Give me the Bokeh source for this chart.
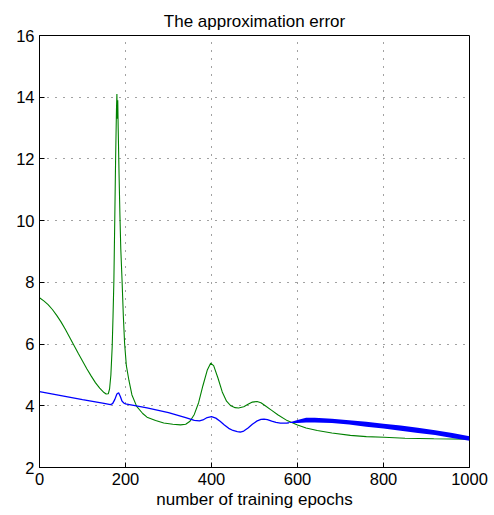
from bokeh.plotting import figure
from bokeh.models import FixedTicker, Range1d
from bokeh.embed import file_html
from bokeh.resources import INLINE

# ---- data ----
green_x = [0, 10, 20, 30, 40, 50, 60, 70, 80, 90, 100, 110, 120, 130, 140, 150, 155, 160,
           163, 166, 169, 171, 173, 175, 177, 179, 180, 181, 182, 183, 185, 187, 189, 192,
           195, 198, 202, 208, 215, 226, 240, 250, 270, 289, 310, 328, 340, 350, 360, 370,
           380, 390, 398, 405, 415, 425, 435, 445, 455, 463, 475, 485, 495, 506, 515, 525,
           540, 555, 576, 600, 620, 646, 680, 723, 760, 801, 850, 917, 1000]
green_y = [7.50, 7.40, 7.28, 7.12, 6.93, 6.72, 6.48, 6.22, 5.96, 5.70, 5.45, 5.20, 4.97, 4.75,
           4.57, 4.43, 4.38, 4.39, 4.55, 5.00, 5.90, 6.90, 8.06, 10.0, 12.0, 13.6, 14.1, 13.3,
           13.9, 13.0, 11.5, 10.2, 9.1, 8.06, 6.9, 6.0, 5.3, 4.82, 4.35, 3.98, 3.75, 3.63,
           3.52, 3.44, 3.40, 3.38, 3.40, 3.50, 3.72, 4.10, 4.65, 5.15, 5.38, 5.30, 4.90, 4.45,
           4.15, 4.00, 3.94, 3.93, 3.97, 4.05, 4.12, 4.14, 4.10, 4.00, 3.85, 3.70, 3.52, 3.38,
           3.28, 3.20, 3.12, 3.04, 3.00, 2.98, 2.95, 2.93, 2.92]

blue_x = [0, 50, 100, 150, 165, 170, 175, 180, 184, 188, 192, 196, 200, 250, 300, 340, 360,
          372, 380, 390, 400, 410, 420, 430, 440, 450, 460, 467, 475, 485, 495, 505, 515, 522,
          530, 540, 550, 560, 568, 575, 580]
blue_y = [4.46, 4.33, 4.20, 4.08, 4.04, 4.07, 4.20, 4.38, 4.42, 4.30, 4.15, 4.09, 4.06, 3.93,
          3.78, 3.62, 3.53, 3.51, 3.54, 3.62, 3.65, 3.60, 3.50, 3.38, 3.27, 3.20, 3.16, 3.15,
          3.18, 3.28, 3.40, 3.50, 3.56, 3.57, 3.55, 3.50, 3.46, 3.44, 3.44, 3.44, 3.45]

band_x = [580, 600, 620, 640, 680, 720, 760, 800, 840, 880, 920, 960, 1000]
band_upper = [3.46, 3.54, 3.61, 3.61, 3.58, 3.53, 3.48, 3.42, 3.36, 3.29, 3.21, 3.12, 3.01]
band_lower = [3.44, 3.44, 3.46, 3.46, 3.44, 3.39, 3.32, 3.26, 3.19, 3.12, 3.05, 2.96, 2.87]

x_ticks = [0, 200, 400, 600, 800, 1000]
y_ticks = [2, 4, 6, 8, 10, 12, 14, 16]

FONT = "Liberation Sans"

p = figure(width=494, height=515, output_backend="svg", toolbar_location=None,
           x_range=Range1d(0, 1000), y_range=Range1d(2, 16),
           min_border_left=39, min_border_right=25, min_border_top=35, min_border_bottom=48,
           title="The approximation error")

p.title.align = "center"
p.title.text_font = FONT
p.title.text_font_style = "normal"
p.title.text_font_size = "17px"
p.title.text_color = "black"
p.title.offset = 0

p.outline_line_color = "black"
p.outline_line_width = 1
p.background_fill_color = "white"
p.border_fill_color = "white"

for ax in (p.xaxis[0], p.yaxis[0]):
    ax.major_tick_in = 5
    ax.major_tick_out = 0
    ax.minor_tick_line_color = None
    ax.axis_line_color = "black"
    ax.major_tick_line_color = "black"
    ax.major_label_text_font = FONT
    ax.major_label_text_font_size = "16.5px"
    ax.major_label_text_color = "black"
    ax.major_label_standoff = 5

p.xaxis.ticker = FixedTicker(ticks=x_ticks)
p.yaxis.ticker = FixedTicker(ticks=y_ticks)
p.xaxis.axis_label = "number of training epochs"
p.xaxis.axis_label_text_font = FONT
p.xaxis.axis_label_text_font_size = "17px"
p.xaxis.axis_label_text_font_style = "normal"
p.xaxis.axis_label_text_color = "black"
p.xaxis.axis_label_standoff = 2

p.xgrid.ticker = FixedTicker(ticks=x_ticks)
p.ygrid.ticker = FixedTicker(ticks=y_ticks)
for g in (p.xgrid[0], p.ygrid[0]):
    g.grid_line_color = "#444444"
    g.grid_line_dash = "1 7"
    g.grid_line_width = 1

p.line(green_x, green_y, line_color="#008000", line_width=1.1)
p.varea(x=band_x, y1=band_lower, y2=band_upper, fill_color="#0000ff")
p.line(blue_x, blue_y, line_color="#0000ff", line_width=1.3)

open("out.html", "w").write(file_html(p, INLINE))
